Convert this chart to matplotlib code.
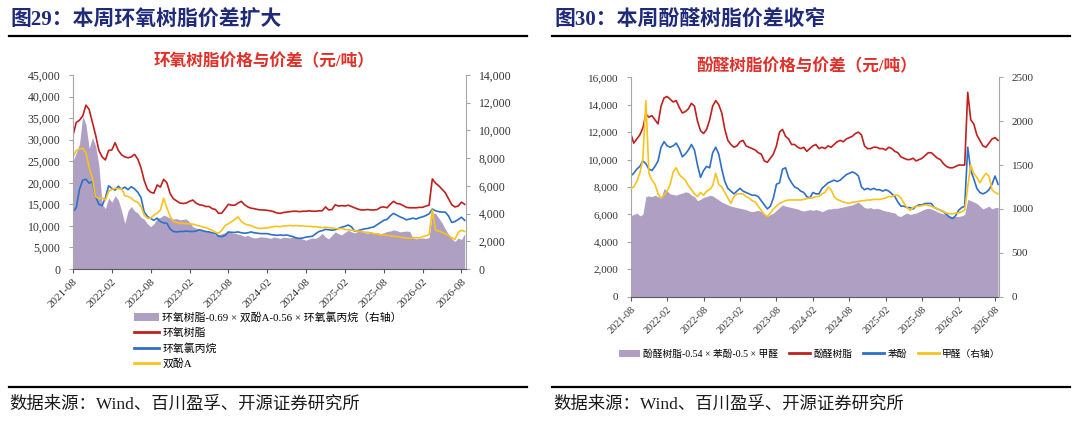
import numpy as np
import matplotlib
matplotlib.use('Agg')
import matplotlib.pyplot as plt
from matplotlib.lines import Line2D
from matplotlib.patches import Patch
from matplotlib.ticker import FuncFormatter

FONT = ['Liberation Serif', 'Noto Sans CJK SC']
plt.rcParams['font.family'] = FONT
plt.rcParams['axes.unicode_minus'] = False

RED = '#C0201E'
BLUE = '#2E6FC7'
YELLOW = '#F9C21C'
PURPLE = '#AFA0C3'
NAVY = '#1F2A7A'

# x tick labels (every 6 months), data sampled every half month from 2021-08
tick_labels = ['2021-08', '2022-02', '2022-08', '2023-02', '2023-08', '2024-02',
               '2024-08', '2025-02', '2025-08', '2026-02', '2026-08']
tick_months = [0, 6, 12, 18, 24, 30, 36, 42, 48, 54, 60]

# ---- 图29 环氧树脂 (元/吨) ----
epoxy = [31000, 34000, 34500, 35500, 38000, 37000, 34000, 31000, 27500, 26000, 25300, 27500,
         27600, 29300, 27500, 26500, 26000, 25800, 26000, 26600, 25500, 23500, 20500, 18500,
         17800, 17600, 19500, 19000, 20800, 20000, 17500, 16300, 15800, 15300, 15200, 15300,
         15700, 16000, 15300, 14900, 14800, 14500, 14500, 14000, 13800, 12900, 13000, 14000,
         15000, 14800, 14800, 15300, 15700, 14900, 14400, 14100, 14000, 13800, 13700, 13700,
         13600, 13500, 13300, 13000, 12900, 13100, 13200, 13300, 13400, 13400, 13300, 13400,
         13400, 13500, 13400, 13400, 13500, 13500, 14400, 13700, 13800, 14900, 14600, 14700,
         14600, 14800, 14500, 14200, 13900, 13700, 13700, 13800, 13700, 13700, 13800, 14300,
         14400, 14200, 15000, 15700, 15200, 15100, 14700, 14300, 14200, 14200, 14200, 14300,
         14300, 14600, 14800, 20900, 19900, 19300, 18500, 17700, 16300, 14900, 14400, 14600,
         15500, 15000]
ech = [13300, 14200, 18500, 20600, 20800, 19900, 20300, 16800, 15000, 14700, 16500, 19300,
       18700, 18300, 19200, 18500, 19000, 18400, 19100, 18600, 17800, 16600, 13200, 12200,
       11700, 11300, 11800, 11000, 10700, 10600, 9300, 8700, 8600, 8700, 8700, 8800,
       8700, 8700, 8800, 9100, 8900, 8700, 8600, 8400, 8200, 7600, 7500, 7800,
       8600, 8500, 8500, 8600, 8400, 8300, 8400, 8600, 8400, 8300, 8200, 8200,
       8200, 8000, 7900, 7800, 7900, 7800, 7900, 7700, 7500, 7200, 7100, 7200,
       7400, 7500, 7600, 8200, 8700, 8900, 9200, 9100, 9000, 9100, 9400, 9700,
       9900, 10200, 9800, 8800, 8900, 9100, 9300, 9400, 9600, 9800, 10300, 10800,
       11300, 11500, 12300, 12900, 12500, 12100, 11800, 11400, 11600, 11800, 11600, 11900,
       12100, 12400, 12800, 13900, 13500, 13300, 13200, 13200, 12300, 10800, 11000, 11500,
       12000, 11300]
bpa = [26000, 27500, 27800, 28000, 27000, 23500, 21000, 16800, 16300, 16500, 16000, 18000,
       18500, 18700, 18600, 18700, 17000, 16800, 16400, 15800, 15500, 14500, 12500, 11800,
       11800, 12500, 13000, 13700, 16400, 14200, 12200, 11000, 10800, 10600, 10600, 10500,
       10500, 10400, 10200, 10000, 9800, 9600, 9300, 9000, 8500, 8300, 9000, 10100,
       10500, 11000, 11500, 12100, 11000, 10500, 10200, 10100, 9700, 9500, 9400, 9500,
       9500, 9700, 9800, 9900, 9800, 10000, 10000, 10100, 10000, 10100, 10000, 10000,
       9900, 9900, 9800, 9800, 9700, 9600, 9700, 9600, 9500, 9400, 9300, 9400,
       9200, 9100, 9000, 8900, 8800, 8700, 8600, 8500, 8400, 8200, 8100, 7900,
       7900, 7800, 7700, 7600, 7500, 7400, 7300, 7200, 7100, 7200, 7300, 7200,
       7500, 7700, 8000, 13700, 9000, 8800, 8500, 8200, 7800, 7200, 6900, 8500,
       9000, 8700]
epoxy_spread = [7780, 8400, 9020, 11040, 10420, 8710, 9490, 8870, 7470, 4670, 4360, 5130,
                4820, 5290, 4980, 4200, 3270, 4200, 4510, 4200, 4040, 3730, 3580, 3270,
                3050, 3270, 3640, 3730, 3890, 3800, 3670, 3610, 3640, 3550, 3580, 3610,
                3390, 3050, 2960, 2860, 2800, 2740, 2710, 2580, 2460, 2490, 2550, 2640,
                2710, 2610, 2580, 2520, 2460, 2360, 2430, 2300, 2240, 2270, 2330, 2300,
                2270, 2210, 2300, 2270, 2210, 2300, 2270, 2240, 2330, 2270, 2240, 2150,
                2080, 2180, 2240, 2210, 2360, 2580, 2300, 2180, 2430, 2680, 2550, 2460,
                2640, 2800, 2680, 2610, 2710, 2740, 2640, 2580, 2680, 2610, 2640, 2550,
                2610, 2710, 2740, 2830, 2770, 2680, 2710, 2740, 2710, 2240, 2180, 2210,
                2240, 2210, 2270, 4040, 4010, 3670, 3330, 2890, 2490, 2180, 1990, 2240,
                2120, 2550]

# ---- 图30 酚醛树脂 (元/吨) ----
phenolic = [11900, 11200, 11500, 11800, 12300, 13300, 13100, 13200, 12900, 12600, 13900, 14500,
            14600, 14400, 14200, 14300, 13800, 13400, 13500, 13700, 14100, 13900, 12800, 12100,
            11900, 12200, 12900, 13900, 14300, 14000, 13400, 12200, 11400, 11100, 10900, 11000,
            11300, 11400, 11000, 10900, 10800, 10700, 10500, 10400, 9900, 9800, 10100, 10400,
            11000, 12000, 12200, 11700, 11500, 11100, 11100, 10900, 10800, 10900, 10600, 10800,
            11000, 11100, 10800, 10900, 10800, 11000, 10900, 11100, 11300, 11400, 11300, 11500,
            11600, 11700, 11900, 12000, 11800, 11000, 10800, 10800, 10900, 10900, 10800, 10800,
            10700, 10900, 10800, 10600, 10500, 10200, 10100, 10000, 10000, 10100, 9900, 10000,
            10100, 10300, 10500, 10500, 10300, 10100, 10000, 9700, 9500, 9400, 9400, 9500,
            9600, 9600, 9600, 14900, 12900, 12600, 11800, 11400, 11000, 10900, 11200, 11500,
            11600, 11400]
phenol = [8800, 9000, 9300, 9500, 9900, 9700, 9300, 9200, 9500, 9900, 10900, 11300,
          11000, 10900, 11000, 11200, 10800, 10200, 10400, 10700, 11100, 10700, 9600, 8700,
          9200, 9500, 9400, 10500, 10900, 10400, 9300, 8400, 7900, 7700, 7500, 7700,
          7900, 7700, 7600, 7500, 7400, 7400, 7300, 7000, 6700, 6400, 6600, 7200,
          8200, 8300, 9300, 9400, 8700, 8300, 8000, 7900, 7700, 7600, 7300, 7200,
          7600, 7500, 7500, 7900, 8100, 8300, 8400, 8500, 8400, 8500, 8700, 8900,
          9000, 9100, 9000, 8800, 8000, 7800, 7900, 7800, 7900, 7800, 7800, 7700,
          7800, 7700, 7500, 7300, 6900, 6600, 6600, 6500, 6500, 6400, 6600, 6700,
          6700, 6800, 6800, 6800, 6500, 6400, 6300, 6200, 6000, 5800, 5700, 5900,
          6300, 6500, 6600, 10900, 9200, 8600, 7900, 7600, 7500, 7600, 7800, 8200,
          8800, 8200]
formaldehyde = [1234, 1250, 1313, 1406, 1563, 2234, 1406, 1328, 1281, 1172, 1125, 1156,
                1203, 1281, 1422, 1469, 1391, 1359, 1328, 1266, 1219, 1172, 1141, 1188,
                1156, 1203, 1219, 1266, 1406, 1281, 1250, 1188, 1125, 1063, 1141, 1172,
                1172, 1172, 1141, 1125, 1094, 1078, 1031, 984, 938, 914, 953, 1000,
                1031, 1063, 1078, 1094, 1102, 1102, 1102, 1102, 1102, 1109, 1117, 1125,
                1125, 1141, 1141, 1172, 1188, 1250, 1219, 1141, 1109, 1094, 1078, 1070,
                1063, 1078, 1078, 1086, 1094, 1094, 1102, 1102, 1109, 1109, 1109, 1117,
                1125, 1141, 1141, 1156, 1156, 1125, 1063, 1016, 984, 1016, 1031, 1031,
                1039, 1047, 1039, 1031, 1016, 1000, 984, 969, 953, 945, 945, 953,
                953, 969, 984, 1250, 1500, 1406, 1359, 1297, 1359, 1406, 1375, 1219,
                1188, 1172]
phenolic_spread = [5900, 6000, 6100, 5900, 6000, 7300, 7350, 7300, 7400, 7300, 7200, 7900,
                   7700, 7500, 7450, 7400, 7500, 7550, 7650, 7600, 7400, 7300, 7000, 7100,
                   7250, 7300, 7400, 7350, 7200, 7050, 6900, 6800, 6700, 6600, 6550, 6500,
                   6450, 6400, 6350, 6250, 6200, 6250, 6300, 6200, 6000, 5850, 6000, 6100,
                   6300, 6500, 6700, 6600, 6550, 6500, 6450, 6400, 6300, 6250, 6300, 6350,
                   6300, 6350, 6300, 6200, 6300, 6400, 6400, 6450, 6450, 6500, 6550, 6600,
                   6650, 6700, 6800, 6900, 6700, 6500, 6450, 6500, 6400, 6450, 6400, 6300,
                   6250, 6200, 6150, 6100, 5900, 5850, 6000, 6100, 6000, 6050, 6100, 6200,
                   6300, 6400, 6450, 6400, 6300, 6200, 6100, 6050, 6000, 5900, 5850, 5850,
                   5850, 5900, 6000, 7100, 7000, 6900, 6800, 6600, 6400, 6500, 6600, 6400,
                   6500, 6500]

W, H = 1080, 422
fig = plt.figure(figsize=(W / 100, H / 100), dpi=100)


def fx(x):
    return x / W


def fy(y):
    return 1 - y / H


def half_months(series):
    return np.arange(len(series)) * 0.5


def style_axes(ax_l, ax_r, xsize, ysize, fmt_l, fmt_r):
    ax_l.spines['top'].set_visible(False)
    ax_r.spines['top'].set_visible(False)
    ax_l.spines['right'].set_visible(False)
    ax_r.spines['left'].set_visible(False)
    ax_r.spines['bottom'].set_visible(False)
    ax_l.spines['left'].set_color('#A6A6A6')
    ax_r.spines['right'].set_color('#A6A6A6')
    ax_l.spines['bottom'].set_color('#595959')
    ax_l.set_xlim(0, 60.7)
    ax_l.set_xticks(tick_months)
    ax_l.set_xticklabels(tick_labels, rotation=45, ha='right', rotation_mode='anchor',
                         fontsize=xsize, color='#333333')
    ax_l.tick_params(axis='x', length=3, color='#595959', pad=3)
    ax_l.tick_params(axis='y', length=3, color='#A6A6A6', labelsize=ysize,
                     labelcolor='#333333', pad=6)
    ax_r.tick_params(axis='y', length=3, color='#A6A6A6', labelsize=ysize,
                     labelcolor='#333333', pad=6)
    ax_l.yaxis.set_major_formatter(FuncFormatter(fmt_l))
    ax_r.yaxis.set_major_formatter(FuncFormatter(fmt_r))


comma = lambda v, p: f'{v:,.0f}'
plain = lambda v, p: f'{v:.0f}'

LW = 1.2

# ---------------- left chart ----------------
a1 = fig.add_axes([fx(73), fy(269), fx(466) - fx(73), (269 - 75) / H])
a2 = a1.twinx()
a1.set_zorder(2)
a2.set_zorder(1)
a1.patch.set_visible(False)

a2.fill_between(half_months(epoxy_spread), 0, epoxy_spread, color=PURPLE, lw=0)
a1.plot(half_months(epoxy), epoxy, color=RED, lw=LW)
a1.plot(half_months(ech), ech, color=BLUE, lw=LW)
a1.plot(half_months(bpa), bpa, color=YELLOW, lw=LW)
a1.set_ylim(0, 45000)
a1.set_yticks(np.arange(0, 45001, 5000))
a2.set_ylim(0, 14000)
a2.set_yticks(np.arange(0, 14001, 2000))
style_axes(a1, a2, 8, 8.5, comma, comma)

# ---------------- right chart ----------------
b1 = fig.add_axes([fx(630.7), fy(296.7), fx(999.3) - fx(630.7), (296.7 - 77.3) / H])
b2 = b1.twinx()
b1.fill_between(half_months(phenolic_spread), 0, phenolic_spread, color=PURPLE, lw=0)
b1.plot(half_months(phenolic), phenolic, color=RED, lw=LW)
b1.plot(half_months(phenol), phenol, color=BLUE, lw=LW)
b2.plot(half_months(formaldehyde), formaldehyde, color=YELLOW, lw=LW)
b1.set_ylim(0, 16000)
b1.set_yticks(np.arange(0, 16001, 2000))
b2.set_ylim(0, 2500)
b2.set_yticks(np.arange(0, 2501, 500))
style_axes(b1, b2, 7.5, 8, comma, plain)

# ---------------- texts ----------------
fig.text(fx(10), fy(21), '图29：本周环氧树脂价差扩大', fontsize=15, weight='bold',
         color=NAVY, va='center')
fig.text(fx(554), fy(21), '图30：本周酚醛树脂价差收窄', fontsize=15, weight='bold',
         color=NAVY, va='center')
fig.add_artist(Line2D([fx(8.6), fx(527)], [fy(36), fy(36)], color='black', lw=1.6))
fig.add_artist(Line2D([fx(552), fx(1070)], [fy(36), fy(36)], color='black', lw=1.6))

fig.text(fx(264), fy(62), '环氧树脂价格与价差（元/吨）', fontsize=12, weight='bold',
         color='#E0302A', ha='center', va='center')
fig.text(fx(807), fy(67), '酚醛树脂价格与价差（元/吨）', fontsize=12, weight='bold',
         color='#E0302A', ha='center', va='center')

fig.add_artist(Line2D([fx(8.6), fx(527)], [fy(387), fy(387)], color='black', lw=1.6))
fig.add_artist(Line2D([fx(552), fx(1070)], [fy(387), fy(387)], color='black', lw=1.6))
fig.text(fx(9), fy(405), '数据来源：Wind、百川盈孚、开源证券研究所', fontsize=12.5,
         color='#1A1A1A', va='center')
fig.text(fx(553), fy(405), '数据来源：Wind、百川盈孚、开源证券研究所', fontsize=12.5,
         color='#1A1A1A', va='center')

# ---------------- legends ----------------
left_handles = [Patch(facecolor=PURPLE, edgecolor='none'),
                Line2D([], [], color=RED, lw=2),
                Line2D([], [], color=BLUE, lw=2),
                Line2D([], [], color=YELLOW, lw=2)]
left_labels = ['环氧树脂-0.69 × 双酚A-0.56 × 环氧氯丙烷（右轴）', '环氧树脂', '环氧氯丙烷', '双酚A']
fig.legend(left_handles, left_labels, loc='upper left', bbox_to_anchor=(fx(134), fy(312)),
           frameon=False, fontsize=7.8, handlelength=2.3, handletextpad=0.3,
           labelspacing=0.45, borderpad=0, borderaxespad=0)

right_handles = [Patch(facecolor=PURPLE, edgecolor='none'),
                 Line2D([], [], color=RED, lw=2),
                 Line2D([], [], color=BLUE, lw=2),
                 Line2D([], [], color=YELLOW, lw=2)]
right_labels = ['酚醛树脂-0.54 × 苯酚-0.5 × 甲醛', '酚醛树脂', '苯酚', '甲醛（右轴）']
fig.legend(right_handles, right_labels, loc='center left', bbox_to_anchor=(fx(619), fy(354)),
           ncol=4, frameon=False, fontsize=7, handlelength=2.2, handletextpad=0.3,
           columnspacing=1.1, borderpad=0, borderaxespad=0)

fig.savefig('out.png', dpi=100)
